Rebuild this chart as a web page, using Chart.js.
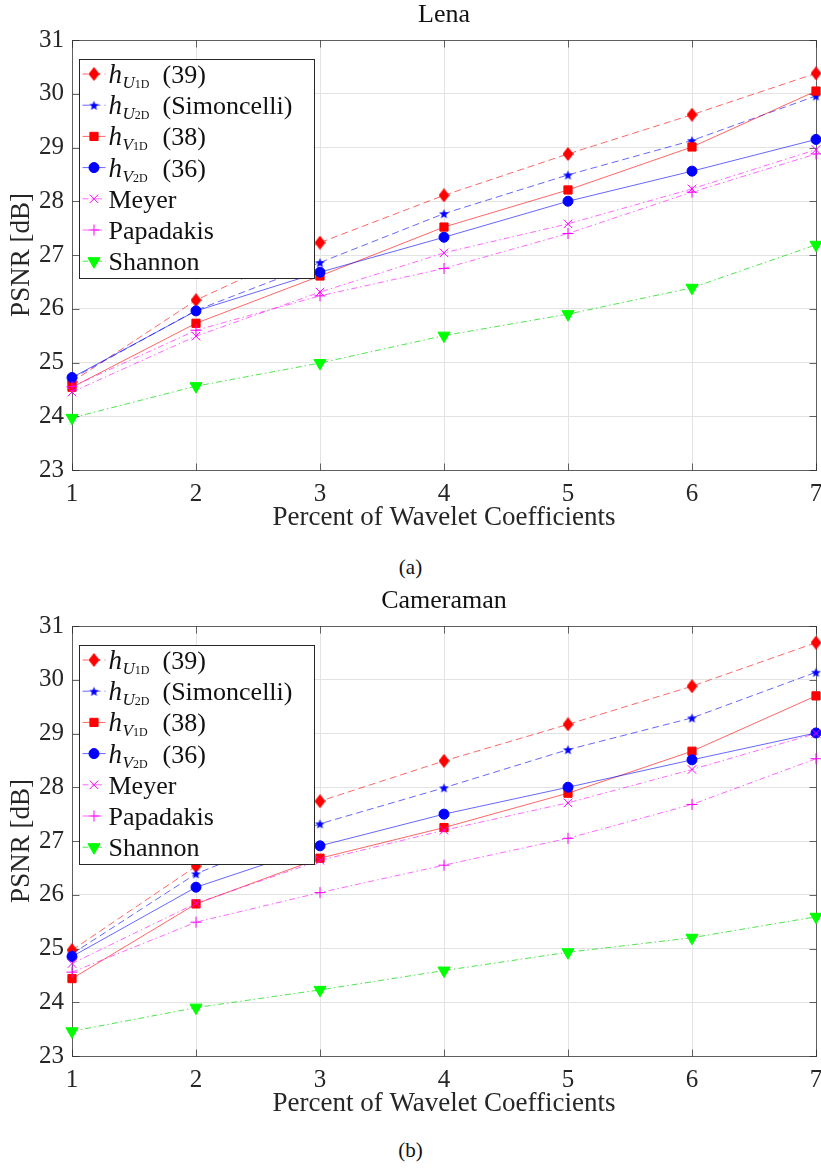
<!DOCTYPE html>
<html>
<head>
<meta charset="utf-8">
<script src="https://cdn.jsdelivr.net/npm/chart.js@4.4.1/dist/chart.umd.min.js"></script>
<style>
  html, body { margin: 0; padding: 0; background: #fff; }
  body { width: 821px; height: 1168px; position: relative; overflow: hidden; }
  canvas { position: absolute; left: 0; }
  #lenaChart { top: 0; }
  #cameraChart { top: 586px; }
  .caption {
    position: absolute; left: 0; width: 821px; text-align: center;
    font-family: 'Liberation Serif', serif; font-size: 21px; line-height: 24px; color: #111;
  }
</style>
</head>
<body>
<canvas id="lenaChart" width="821" height="545"></canvas>
<div class="caption" style="top:555px">(a)</div>
<canvas id="cameraChart" width="821" height="545"></canvas>
<div class="caption" style="top:1138px">(b)</div>

<script>
// ---- data -------------------------------------------------------------
const percents = [1, 2, 3, 4, 5, 6, 7];
const xTicks = [1, 2, 3, 4, 5, 6, 7];
const yTicks = [23, 24, 25, 26, 27, 28, 29, 30, 31];

// Lena
const lenaU1D       = [24.64, 26.16, 27.23, 28.11, 28.88, 29.61, 30.38];
const lenaU2D       = [24.70, 25.97, 26.86, 27.77, 28.49, 29.13, 29.96];
const lenaV1D       = [24.54, 25.73, 26.61, 27.52, 28.21, 29.01, 30.05];
const lenaV2D       = [24.72, 25.96, 26.68, 27.33, 28.00, 28.56, 29.15];
const lenaMeyer     = [24.45, 25.49, 26.31, 27.04, 27.58, 28.23, 28.96];
const lenaPapadakis = [24.55, 25.60, 26.24, 26.75, 27.40, 28.17, 28.88];
const lenaShannon   = [23.97, 24.56, 24.99, 25.50, 25.90, 26.39, 27.19];

// Cameraman
const camU1D       = [24.97, 26.53, 27.74, 28.49, 29.17, 29.88, 30.69];
const camU2D       = [24.90, 26.39, 27.32, 27.99, 28.70, 29.29, 30.14];
const camV1D       = [24.44, 25.83, 26.68, 27.25, 27.89, 28.67, 29.70];
const camV2D       = [24.85, 26.14, 26.91, 27.50, 28.00, 28.51, 29.01];
const camMeyer     = [24.72, 25.84, 26.64, 27.20, 27.71, 28.33, 29.00];
const camPapadakis = [24.56, 25.49, 26.04, 26.55, 27.05, 27.68, 28.53];
const camShannon   = [23.46, 23.90, 24.23, 24.59, 24.93, 25.20, 25.59];

// legend text: h_{sub_{subsub}} text
const legendSub    = ['U', 'U', 'V', 'V', '', '', ''];
const legendSubSub = ['1D', '2D', '1D', '2D', '', '', ''];
const legendText   = ['(39)', '(Simoncelli)', '(38)', '(36)', 'Meyer', 'Papadakis', 'Shannon'];

// ---- styling ----------------------------------------------------------
const SERIF = '"Liberation Serif", "Times New Roman", serif';
const TEXT = '#262626';

// filled pentagram marker (Chart.js "star" is an asterisk)
function makeStar(color, r) {
  const s = Math.ceil(r * 2 + 2);
  const c = document.createElement('canvas');
  c.width = s; c.height = s;
  const g = c.getContext('2d');
  g.fillStyle = color;
  g.beginPath();
  for (let k = 0; k < 10; k++) {
    const rr = k % 2 ? r * 0.42 : r;
    const ang = -Math.PI / 2 + k * Math.PI / 5;
    g.lineTo(s / 2 + rr * Math.cos(ang), s / 2 + 0.6 + rr * Math.sin(ang));
  }
  g.closePath();
  g.fill();
  return c;
}

// matlab diamond is a bit taller than wide
function makeDiamond(color, w, h) {
  const c = document.createElement('canvas');
  c.width = w; c.height = h;
  const g = c.getContext('2d');
  g.fillStyle = color;
  g.beginPath();
  g.moveTo(w / 2, 0); g.lineTo(w, h / 2); g.lineTo(w / 2, h); g.lineTo(0, h / 2);
  g.closePath();
  g.fill();
  return c;
}

const diamondImg = makeDiamond('#ff0000', 11, 14);
const starImg = makeStar('#0000ff', 5.2);

const dashed = [7, 4];
const dashDot = [6, 3, 1.5, 3];

const styles = [
  { color: '#ff0000', line: 'rgba(255,0,0,0.6)',   dash: dashed,  marker: diamondImg, radius: 6 },
  { color: '#0000ff', line: 'rgba(0,0,255,0.6)',   dash: dashed,  marker: starImg,    radius: 5 },
  { color: '#ff0000', line: 'rgba(255,0,0,0.6)',   dash: [],      marker: 'rect',     radius: 5.8 },
  { color: '#0000ff', line: 'rgba(0,0,255,0.6)',   dash: [],      marker: 'circle',   radius: 5 },
  { color: '#ff00ff', line: 'rgba(255,0,255,0.6)', dash: dashDot, marker: 'crossRot', radius: 6, hollow: true },
  { color: '#ff00ff', line: 'rgba(255,0,255,0.6)', dash: dashDot, marker: 'cross',    radius: 5.5, hollow: true },
  { color: '#00ff00', line: 'rgba(0,220,0,0.7)',   dash: dashDot, marker: 'triangle', radius: 7, rotation: 180 },
];

function buildDatasets(seriesList) {
  return seriesList.map((vals, i) => {
    const st = styles[i];
    return {
      label: legendText[i],
      data: percents.map((p, k) => ({ x: p, y: vals[k] })),
      borderColor: st.line,
      borderWidth: 1,
      borderDash: st.dash,
      pointStyle: st.marker,
      pointRadius: st.radius,
      pointRotation: st.rotation || 0,
      pointBackgroundColor: st.hollow ? 'rgba(0,0,0,0)' : st.color,
      pointBorderColor: st.color,
      pointBorderWidth: 1,
      fill: false,
      tension: 0,
      clip: false,
      order: seriesList.length - i
    };
  });
}

// legend marker: use the library's own point drawer
function legendMarker(ctx, st, x, y) {
  ctx.fillStyle = st.hollow ? 'rgba(0,0,0,0)' : st.color;
  ctx.strokeStyle = st.color;
  ctx.lineWidth = 1;
  Chart.helpers.drawPoint(ctx, {
    pointStyle: st.marker, radius: st.radius, rotation: st.rotation || 0, borderWidth: 1
  }, x, y);
}

function drawLegend(ctx, area) {
  const left = Math.round(area.left + 7) + 0.5;
  const top = Math.round(area.top + 19) + 0.5;
  const w = 235, h = 219;
  ctx.save();
  ctx.fillStyle = '#fff';
  ctx.fillRect(left, top, w, h);
  ctx.strokeStyle = '#262626';
  ctx.lineWidth = 1;
  ctx.strokeRect(left, top, w, h);

  styles.forEach((st, i) => {
    const cy = top + 14.5 + i * 31.2;
    ctx.strokeStyle = st.line;
    ctx.setLineDash(st.dash);
    ctx.beginPath();
    ctx.moveTo(left + 3, cy);
    ctx.lineTo(left + 26, cy);
    ctx.stroke();
    ctx.setLineDash([]);
    legendMarker(ctx, st, left + 14.5, cy);

    const base = cy + 9;
    let tx = left + 29;
    ctx.fillStyle = '#111';
    ctx.textAlign = 'left';
    ctx.textBaseline = 'alphabetic';
    if (legendSub[i]) {
      ctx.font = 'italic 27px ' + SERIF;
      ctx.fillText('h', tx, base);
      tx += ctx.measureText('h').width + 0.5;
      ctx.font = 'italic 17px ' + SERIF;
      ctx.fillText(legendSub[i], tx, base + 5);
      tx += ctx.measureText(legendSub[i]).width;
      ctx.font = '12px ' + SERIF;
      ctx.fillText(legendSubSub[i], tx, base + 5);
      tx = left + 83;
    }
    ctx.font = '26px ' + SERIF;
    ctx.fillText(legendText[i], tx, base);
  });
  ctx.restore();
}

// matlab style box, inward ticks, title and legend
const matlabFrame = {
  id: 'matlabFrame',
  beforeDatasetsDraw(chart) {
    const { ctx, chartArea: a, scales: { x, y } } = chart;
    const L = Math.round(a.left) + 0.5, R = Math.round(a.right) + 0.5;
    const T = Math.round(a.top) + 0.5, B = Math.round(a.bottom) + 0.5;
    ctx.save();
    ctx.strokeStyle = 'rgba(38,38,38,0.7)';
    ctx.lineWidth = 1;
    ctx.strokeRect(L, T, R - L, B - T);
    ctx.beginPath();
    xTicks.forEach(v => {
      const px = Math.round(x.getPixelForValue(v)) + 0.5;
      ctx.moveTo(px, B); ctx.lineTo(px, B - 7);
      ctx.moveTo(px, T); ctx.lineTo(px, T + 7);
    });
    yTicks.forEach(v => {
      const py = Math.round(y.getPixelForValue(v)) + 0.5;
      ctx.moveTo(L, py); ctx.lineTo(L + 7, py);
      ctx.moveTo(R, py); ctx.lineTo(R - 7, py);
    });
    ctx.stroke();
    ctx.restore();
  },
  afterDraw(chart, args, opts) {
    const { ctx, chartArea: a } = chart;
    ctx.save();
    ctx.fillStyle = '#111';
    ctx.font = '26px ' + SERIF;
    ctx.textAlign = 'center';
    ctx.textBaseline = 'alphabetic';
    ctx.fillText(opts.title, (a.left + a.right) / 2, a.top - 18);
    ctx.restore();
    drawLegend(ctx, a);
  }
};

function makeChart(id, title, seriesList) {
  return new Chart(document.getElementById(id), {
    type: 'line',
    data: { datasets: buildDatasets(seriesList) },
    plugins: [matlabFrame],
    options: {
      responsive: false,
      animation: false,
      events: [],
      layout: { autoPadding: false, padding: { top: 40, left: 0, right: 5, bottom: 0 } },
      plugins: {
        legend: { display: false },
        tooltip: { enabled: false },
        matlabFrame: { title: title }
      },
      scales: {
        x: {
          type: 'linear',
          min: 1,
          max: 7,
          afterBuildTicks: s => { s.ticks = xTicks.map(v => ({ value: v })); },
          afterFit: s => { s.height = 75; s.paddingLeft = 0; s.paddingRight = 0; },
          grid: { color: '#e3e3e3', drawTicks: false },
          border: { display: false },
          ticks: {
            color: TEXT, padding: 9, maxRotation: 0, autoSkip: false,
            font: { family: SERIF, size: 25 }
          },
          title: {
            display: true, text: 'Percent of Wavelet Coefficients', color: TEXT,
            font: { family: SERIF, size: 27, lineHeight: 1.2 },
            padding: { top: 0, bottom: 11 }
          }
        },
        y: {
          min: 23,
          max: 31,
          afterBuildTicks: s => { s.ticks = yTicks.map(v => ({ value: v })); },
          afterFit: s => { s.width = 72; s.paddingTop = 0; s.paddingBottom = 0; },
          grid: { color: '#e3e3e3', drawTicks: false },
          border: { display: false },
          ticks: {
            color: TEXT, padding: 8,
            font: { family: SERIF, size: 25 }
          },
          title: {
            display: true, text: 'PSNR [dB]', color: TEXT,
            font: { family: SERIF, size: 27, lineHeight: 1.2 },
            padding: { top: 6, bottom: 6 }
          }
        }
      }
    }
  });
}

makeChart('lenaChart', 'Lena',
  [lenaU1D, lenaU2D, lenaV1D, lenaV2D, lenaMeyer, lenaPapadakis, lenaShannon]);
makeChart('cameraChart', 'Cameraman',
  [camU1D, camU2D, camV1D, camV2D, camMeyer, camPapadakis, camShannon]);
</script>
</body>
</html>
